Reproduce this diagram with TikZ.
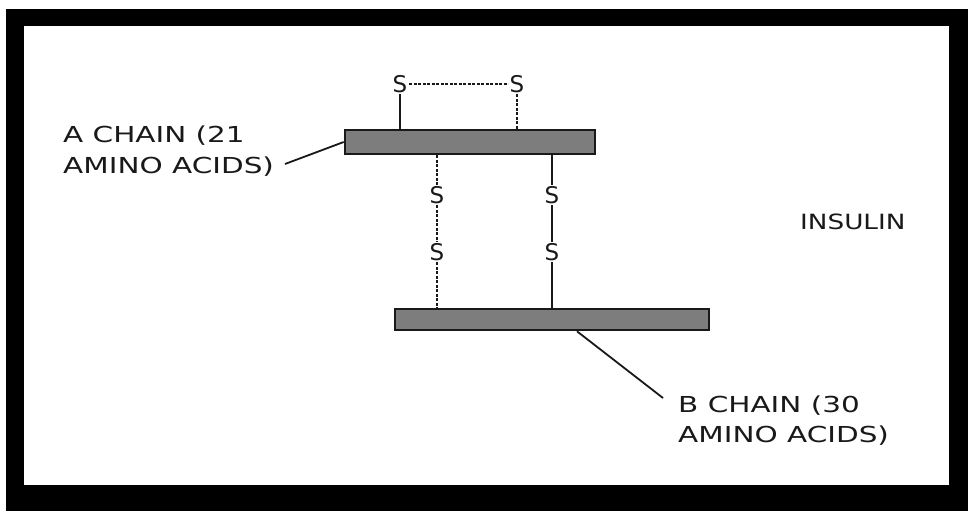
\documentclass[tikz,border=0pt]{standalone}
\usepackage{fontspec}
\setmainfont{DejaVu Sans}
\usepackage{graphicx}
\definecolor{barfill}{RGB}{125,125,125}
\definecolor{ink}{RGB}{25,25,25}
\newcommand{\widetxt}[1]{\scalebox{1.34}[1]{#1}}
\begin{document}
\begin{tikzpicture}[x=1pt,y=-1pt,
  chainbar/.style={draw=ink,line width=2.6pt,fill=barfill,rectangle,inner sep=0pt},
  atom/.style={inner sep=1.5pt,font=\fontsize{23}{23}\selectfont,text=ink},
  lbl/.style={inner sep=0pt,anchor=west,font=\fontsize{22}{22}\selectfont,text=ink},
  bond/.style={draw=ink,line width=2.3pt},
  weakbond/.style={draw=ink,line width=2pt,dash pattern=on 3pt off 1.5pt},
  leader/.style={draw=ink,line width=1.8pt}]
\useasboundingbox (0,0) rectangle (968,511);
\fill[white] (0,0) rectangle (968,511);
\fill[black] (6,9) rectangle (968,511);
\fill[white] (24,26) rectangle (949,485);
% chains
\node[chainbar,minimum width=250pt,minimum height=24pt] (barA) at (470,142) {};
\node[chainbar,minimum width=314pt,minimum height=21pt] (barB) at (552,319.5) {};
% sulfur atoms
\node[atom] (s1) at (400,84) {S};
\node[atom] (s2) at (517,84) {S};
\node[atom] (s3) at (437,195) {S};
\node[atom] (s4) at (437,252) {S};
\node[atom] (s5) at (552,195) {S};
\node[atom] (s6) at (552,252) {S};
% intra-chain bridge
\draw[weakbond] (s1.east) -- (s2.west);
\draw[bond] (s1.south) -- (barA.north -| s1);
\draw[weakbond] (s2.south) -- (barA.north -| s2);
% inter-chain bridges
\draw[weakbond] (barA.south -| s3) -- (s3.north);
\draw[weakbond] (s3.south) -- (s4.north);
\draw[weakbond] (s4.south) -- (barB.north -| s4);
\draw[bond] (barA.south -| s5) -- (s5.north);
\draw[bond] (s5.south) -- (s6.north);
\draw[bond] (s6.south) -- (barB.north -| s6);
% labels
\node[lbl] (a1) at (63,136) {\widetxt{A CHAIN (21}};
\node[lbl] (a2) at (63,167) {\widetxt{AMINO ACIDS)}};
\node[lbl] (b1) at (678,406) {\widetxt{B CHAIN (30}};
\node[lbl] (b2) at (678,436) {\widetxt{AMINO ACIDS)}};
\node[lbl,font=\fontsize{21}{21}\selectfont] (ins) at (800,222) {\scalebox{1.25}[1]{INSULIN}};
% leaders
\coordinate (la) at (285,164);
\coordinate (lb) at (663,398);
\draw[leader] (la) -- (barA.west);
\draw[leader] (barB.south -| 577,0) -- (lb);
\end{tikzpicture}
\end{document}
